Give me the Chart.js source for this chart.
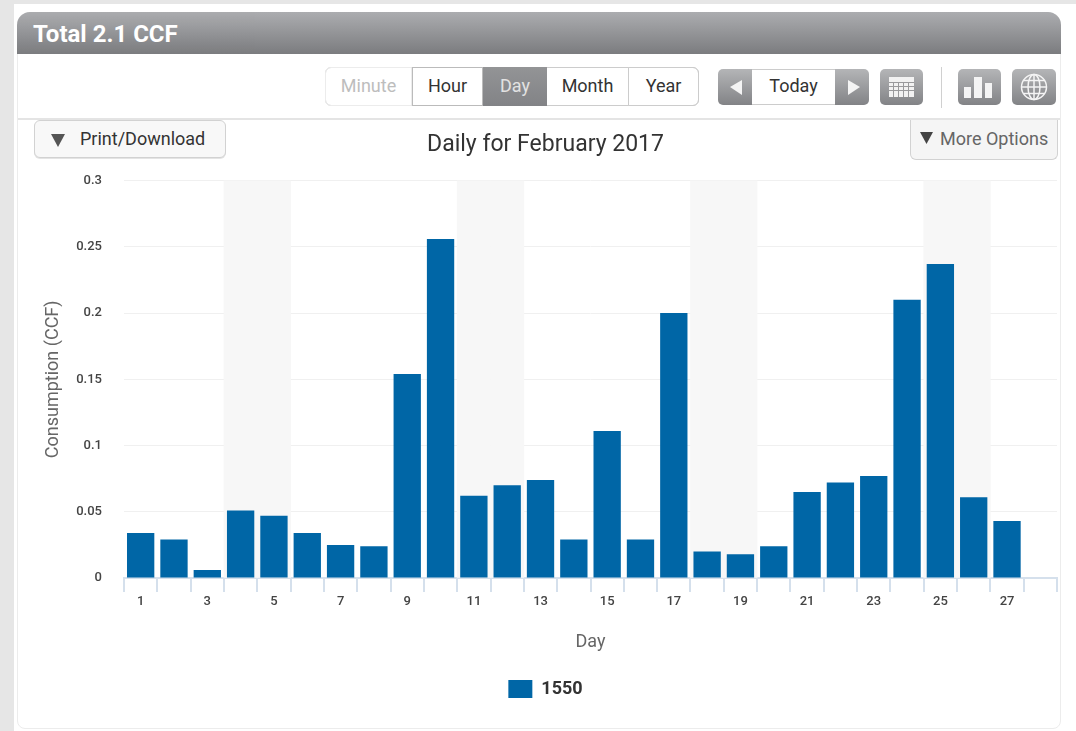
<!DOCTYPE html>
<html>
<head>
<meta charset="utf-8">
<script src="https://cdn.jsdelivr.net/npm/chart.js@4"></script>
<style>
html,body{margin:0;padding:0;width:1076px;height:731px;overflow:hidden;background:#fff;font-family:Roboto,sans-serif}
.a{position:absolute;box-sizing:border-box}
.btn{display:flex;align-items:center;justify-content:center;font-size:18px;color:#333;padding-bottom:2px}
.gbtn{background:linear-gradient(#b4b5b7,#828386);border-radius:5px}
#chart{position:absolute;left:18px;top:120px}
</style>
</head>
<body>
<div class="a" style="left:0;top:0;width:14px;height:731px;background:#e6e6e6"></div>
<div class="a" style="left:0;top:0;width:1076px;height:4px;background:#e6e6e6"></div>
<div class="a" style="left:17px;top:12px;width:1044px;height:717px;border:1px solid #ececec;border-radius:13px 13px 8px 8px"></div>
<div class="a" style="left:17px;top:12px;width:1044px;height:42px;border-radius:13px 13px 0 0;background:linear-gradient(#a9aaad,#77787b);color:#fff;font-weight:700;font-size:24px;line-height:44px;padding-left:16px;opacity:.97">Total 2.1 CCF</div>
<div class="a" style="left:18px;top:118px;width:1042px;height:2px;background:#e4e4e4"></div>

<div class="a" style="left:325px;top:67px;width:374px;height:39px;border:1px solid #d4d4d4;border-radius:6px"></div>
<div class="a btn" style="left:325px;top:67px;width:87px;height:39px;color:#bdbdbd;border:1px solid #ececec;border-radius:6px 0 0 6px">Minute</div>
<div class="a btn" style="left:412px;top:67px;width:71px;height:39px;border:1px solid #bbb">Hour</div>
<div class="a btn" style="left:483px;top:67px;width:64px;height:39px;background:linear-gradient(#939496,#828386);color:#e2e2e2">Day</div>
<div class="a btn" style="left:547px;top:67px;width:81px;height:39px;border-top:1px solid #ccc;border-bottom:1px solid #ccc">Month</div>
<div class="a btn" style="left:628px;top:67px;width:71px;height:39px;border:1px solid #ccc;border-radius:0 6px 6px 0">Year</div>

<div class="a gbtn" style="left:718px;top:69px;width:34px;height:36px;border-radius:5px 0 0 5px"></div>
<div class="a btn" style="left:752px;top:69px;width:83px;height:36px;border-top:1px solid #ccc;border-bottom:1px solid #ccc;padding-bottom:4px">Today</div>
<div class="a gbtn" style="left:835px;top:69px;width:34px;height:36px;border-radius:0 5px 5px 0"></div>
<div class="a gbtn" style="left:880px;top:69px;width:43px;height:36px"></div>
<div class="a" style="left:941px;top:67px;width:1px;height:41px;background:#d0d0d0"></div>
<div class="a gbtn" style="left:958px;top:69px;width:43px;height:36px"></div>
<div class="a gbtn" style="left:1012px;top:69px;width:44px;height:36px"></div>
<svg class="a" style="left:718px;top:69px" width="340" height="36" fill="#f4f4f4">
  <path d="M12 18L24 11V26Z"/>
  <path d="M130 11L142 18L130 26Z"/>
  <g fill="#f2f2f2"><rect x="171" y="8" width="25" height="20"/></g>
  <g stroke="#9a9a9c" stroke-width="1"><path d="M171 13.500H196M171 17.500H196M171 21.500H196M175.500 13V28M180.500 13V28M185.500 13V28M190.500 13V28"/></g>
  <rect x="246" y="18" width="7" height="11"/><rect x="256" y="8" width="8" height="21"/><rect x="267" y="14" width="7" height="15"/>
  <g fill="none" stroke="#f4f4f4" stroke-width="1.500"><circle cx="316" cy="18" r="12.500"/><ellipse cx="316" cy="18" rx="6" ry="12.500"/><path d="M316 5.500V30.500M303.500 18H328.500M305.500 11.500H326.500M305.500 24.500H326.500"/></g>
</svg>

<div class="a" style="left:34px;top:120px;width:192px;height:38px;border:1px solid #d2d2d2;border-radius:6px;background:#f8f8f8;box-shadow:0 1px 0 #e4e4e4"></div>
<svg class="a" style="left:51px;top:133px" width="15" height="15"><path d="M0 1H14L7 14Z" fill="#555"/></svg>
<div class="a" style="left:80px;top:127px;font-size:18px;line-height:24px;color:#333">Print/Download</div>
<div class="a" style="left:910px;top:120px;width:148px;height:40px;border:1px solid #d2d2d2;border-top:none;border-radius:0 0 6px 6px;background:#f5f5f5"></div>
<svg class="a" style="left:920px;top:132px" width="14" height="13"><path d="M0 0H13L6.500 12Z" fill="#444"/></svg>
<div class="a" style="left:940px;top:127px;font-size:18px;line-height:24px;color:#666">More Options</div>

<canvas id="chart" width="1056" height="606" style="width:1056px;height:606px"></canvas>

<script>
const categories = [1,2,3,4,5,6,7,8,9,10,11,12,13,14,15,16,17,18,19,20,21,22,23,24,25,26,27,28];
const consumption = [0.034,0.029,0.006,0.051,0.047,0.034,0.025,0.024,0.154,0.256,0.062,0.07,0.074,0.029,0.111,0.029,0.2,0.02,0.018,0.024,0.065,0.072,0.077,0.21,0.237,0.061,0.043,null];
const weekendDays = [4,5,11,12,18,19,25,26];
const seriesName = '1550';
const chartTitle = 'Daily for February 2017';
const yTitle = 'Consumption (CCF)';
const xTitle = 'Day';
const yMax = 0.3;
const yStep = 0.05;

const weekendBand = categories.map(d => weekendDays.includes(d) ? yMax : null);

new Chart(document.getElementById('chart'), {
  type: 'bar',
  data: {
    labels: categories,
    datasets: [
      { label: seriesName, data: consumption, backgroundColor: '#0066a6', borderWidth: 0,
        barPercentage: 0.82, categoryPercentage: 1, grouped: false, order: 1 },
      { label: 'Weekend', data: weekendBand, backgroundColor: '#f7f7f7', borderWidth: 0,
        barPercentage: 1, categoryPercentage: 1, grouped: false, order: 2 }
    ]
  },
  options: {
    responsive: false,
    animation: false,
    layout: { padding: { top: 0, right: 17, bottom: 18, left: 16 } },
    plugins: {
      tooltip: { enabled: false },
      title: { display: true, text: chartTitle, color: '#333', font: { family: 'Roboto', size: 23, weight: 'normal' },
        padding: { top: 11, bottom: 22 } },
      legend: { position: 'bottom',
        labels: { filter: i => i.text === seriesName, boxWidth: 24, boxHeight: 18, color: '#333', padding: 0,
          font: { family: 'Roboto', size: 18, weight: 'bold' } } }
    },
    scales: {
      x: {
        offset: true,
        border: { color: '#d5e0ec', width: 2 },
        grid: { offset: true, drawOnChartArea: false, drawTicks: true, tickLength: 14, color: '#d5e0ec', lineWidth: 2 },
        ticks: { autoSkip: false, maxRotation: 0, padding: 2, color: '#444', font: { family: 'Roboto', size: 13, weight: '500' },
          callback: function (v, i) { return i % 2 === 0 ? categories[i] : ''; } },
        title: { display: true, text: xTitle, color: '#666', font: { family: 'Roboto', size: 18 }, padding: { top: 18, bottom: 27 } },
        afterFit: s => { s.height = 102; }
      },
      y: {
        min: 0, max: yMax,
        border: { display: false },
        grid: { drawTicks: false, color: '#f0f0f0', lineWidth: 1 },
        ticks: { stepSize: yStep, padding: 22, color: '#444', font: { family: 'Roboto', size: 13, weight: '500' },
          callback: v => String(+v.toFixed(2)) },
        title: { display: true, text: yTitle, color: '#666', font: { family: 'Roboto', size: 18 }, padding: { top: 9, bottom: 0 } },
        afterFit: s => { s.width = 90; }
      }
    }
  }
});
</script>
</body>
</html>
